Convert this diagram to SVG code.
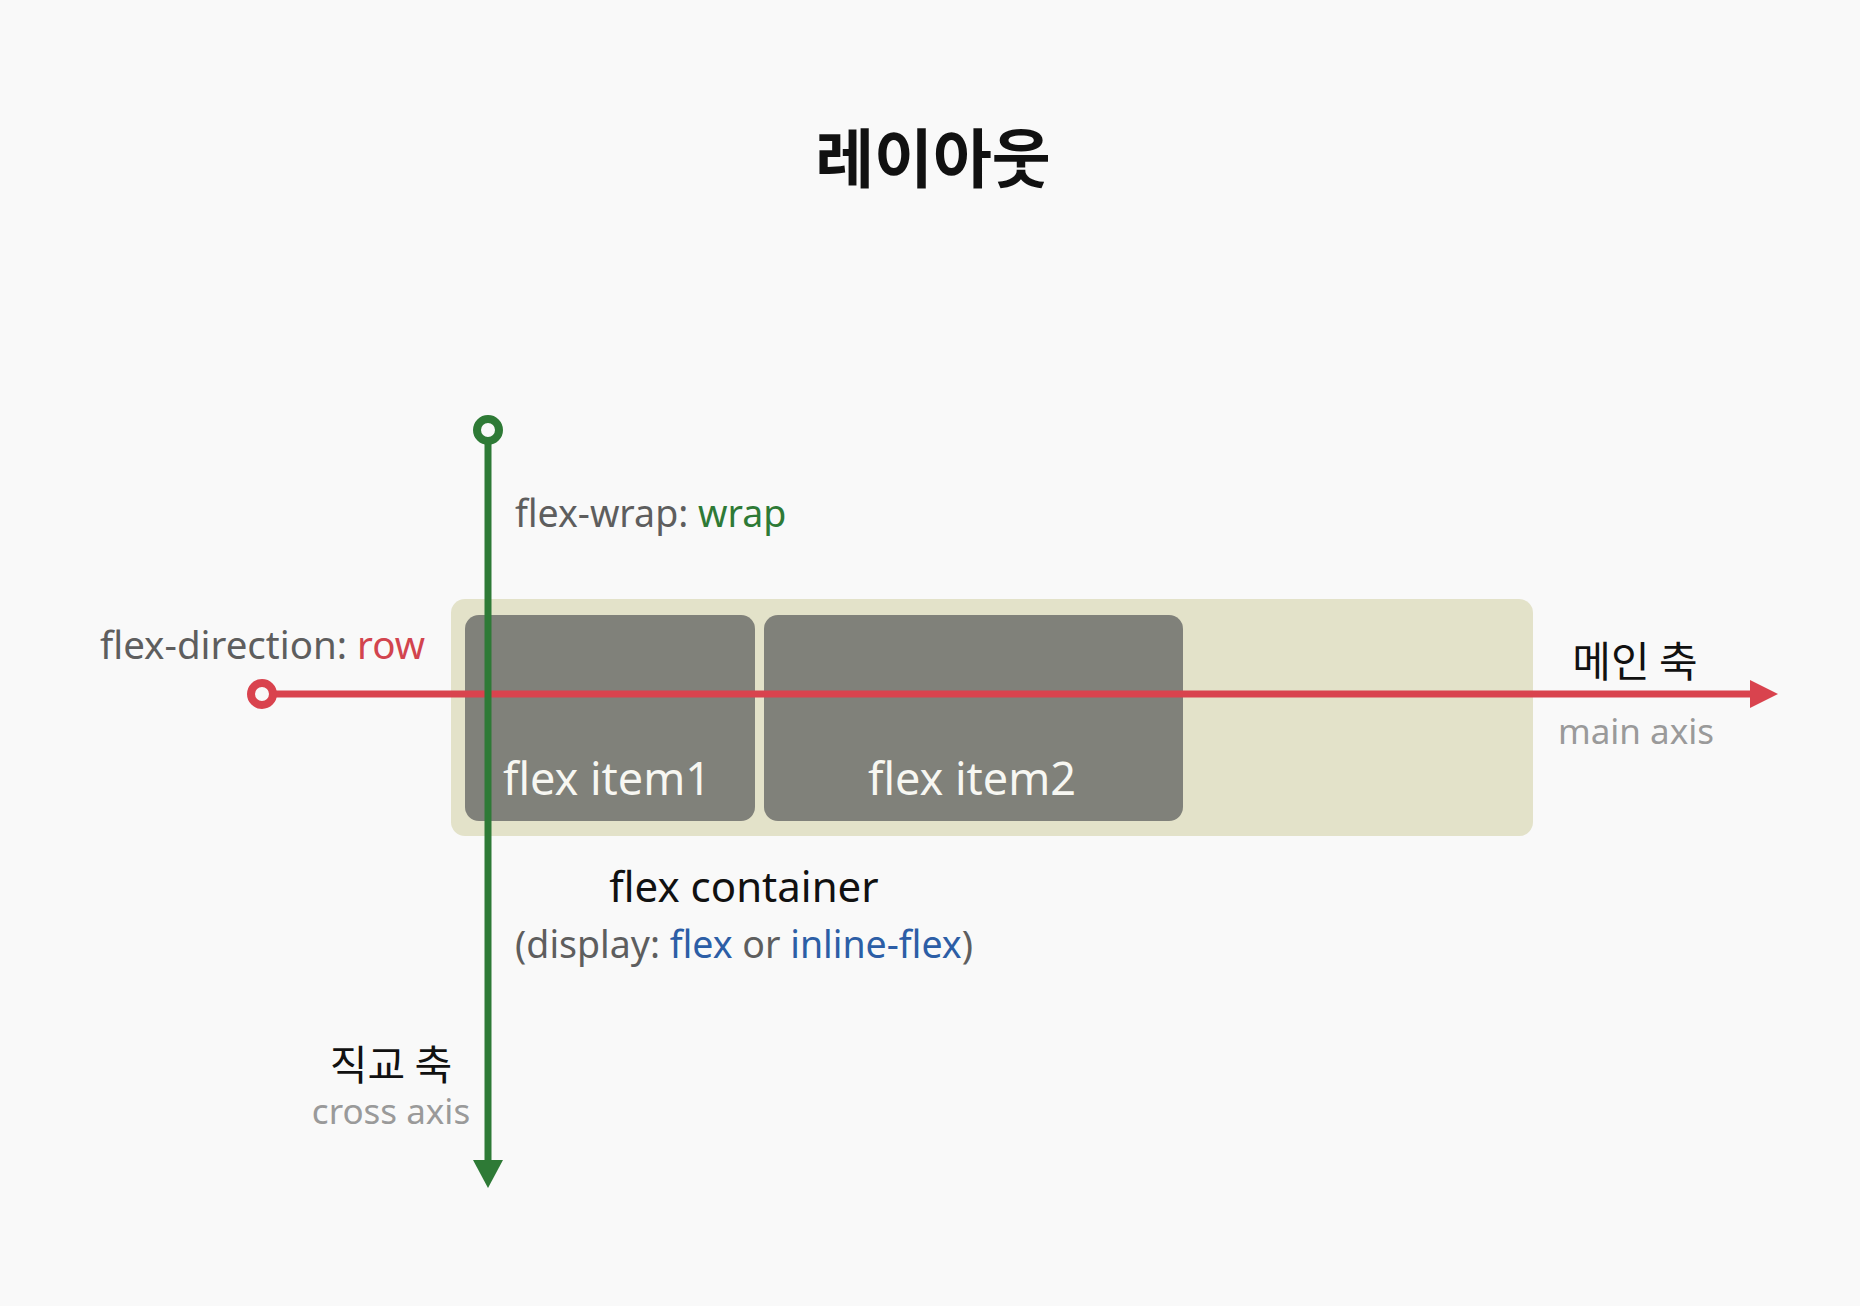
<svg xmlns="http://www.w3.org/2000/svg" width="1860" height="1306" viewBox="0 0 1860 1306">
<defs>
<style>
text{font-family:"Noto Sans","Noto Sans CJK KR",sans-serif}
.ko{font-family:"Noto Sans CJK KR","Noto Sans",sans-serif}
.gray{fill:#5e5e5e}
.lg{fill:#9a9a9a}
.red{fill:#d2444e}
.green{fill:#2e7a36}
.blue{fill:#2c5ea6}
.item{fill:#80817a}
.itext{fill:#f7f7f2;font-size:45px;text-anchor:middle}
</style>
<marker id="ahRed" viewBox="0 0 28 28" refX="0" refY="14" markerWidth="28" markerHeight="28" markerUnits="userSpaceOnUse" orient="auto">
<path d="M0,0 L28,14 L0,28 Z" fill="#d9434e"/>
</marker>
<marker id="ahGreen" viewBox="0 0 28 30" refX="0" refY="15" markerWidth="28" markerHeight="30" markerUnits="userSpaceOnUse" orient="auto">
<path d="M0,0 L28,15 L0,30 Z" fill="#2e7a36"/>
</marker>
</defs>
<rect width="1860" height="1306" fill="#f9f9f9"/>
<g id="title"><text class="ko" x="933" y="182" font-size="64" font-weight="bold" text-anchor="middle" fill="#111">레이아웃</text></g>
<g id="container"><rect x="451" y="599" width="1082" height="237" rx="14" fill="#e3e2c9"/></g>
<g id="item1"><rect class="item" x="465" y="615" width="290" height="206" rx="14"/><text class="itext" x="607" y="795">flex item1</text></g>
<g id="item2"><rect class="item" x="764" y="615" width="419" height="206" rx="14"/><text class="itext" x="972" y="795">flex item2</text></g>
<g id="connectors">
<line x1="273" y1="694" x2="1750" y2="694" stroke="#d9434e" stroke-width="7" marker-end="url(#ahRed)"/>
<circle cx="262" cy="694" r="11" fill="#f9f9f9" stroke="#d9434e" stroke-width="8"/>
<line x1="488" y1="441" x2="488" y2="1160" stroke="#2e7a36" stroke-width="7" marker-end="url(#ahGreen)"/>
<circle cx="488" cy="430" r="11" fill="#f9f9f9" stroke="#2e7a36" stroke-width="8"/>
</g>
<g id="label-wrap"><text x="515" y="527" font-size="37.5" class="gray">flex-wrap: <tspan class="green">wrap</tspan></text></g>
<g id="label-direction"><text x="100" y="659" font-size="38.5" class="gray">flex-direction: <tspan class="red">row</tspan></text></g>
<g id="label-main"><text class="ko" x="1635" y="677" font-size="42" text-anchor="middle" fill="#111">메인 축</text><text x="1636" y="744" font-size="35" text-anchor="middle" class="lg">main axis</text></g>
<g id="label-container"><text x="744" y="902" font-size="42" text-anchor="middle" fill="#111">flex container</text><text x="744" y="958" font-size="37.5" text-anchor="middle" class="gray">(display: <tspan class="blue">flex</tspan> or <tspan class="blue">inline-flex</tspan>)</text></g>
<g id="label-cross"><text class="ko" x="391" y="1080" font-size="41" text-anchor="middle" fill="#111">직교 축</text><text x="391" y="1124" font-size="35" text-anchor="middle" class="lg">cross axis</text></g>
</svg>
